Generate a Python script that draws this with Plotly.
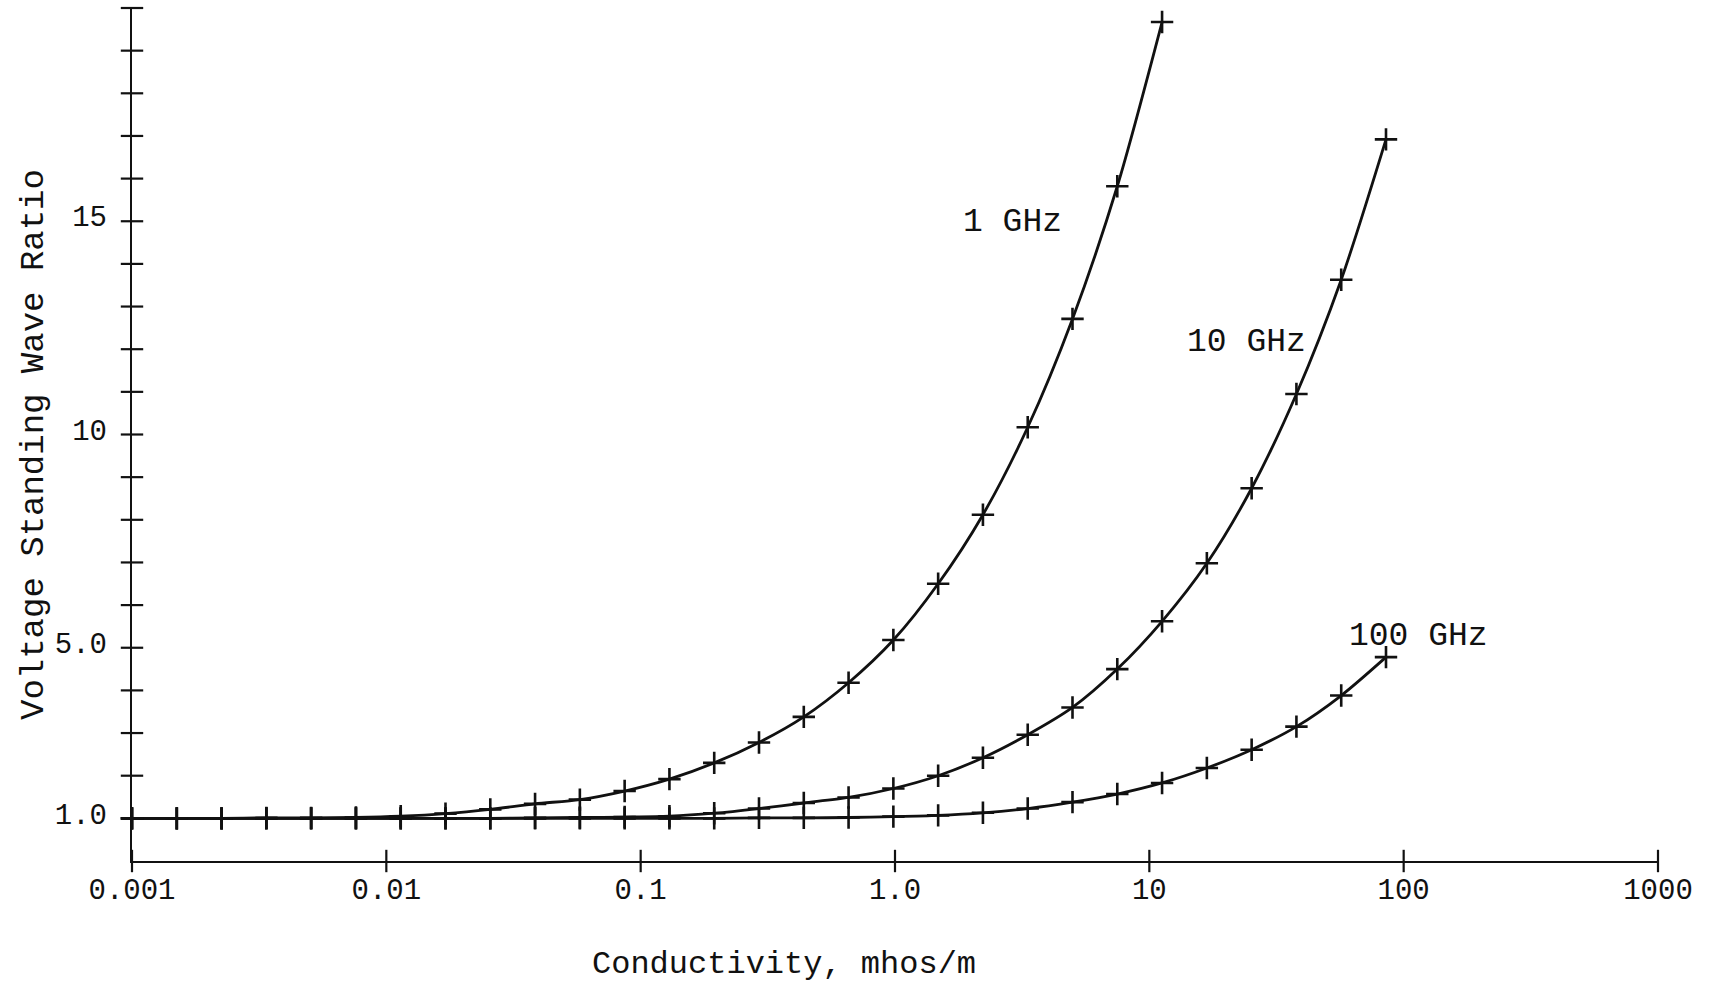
import math
import plotly.graph_objects as go

# Conductivity sample points, mhos/m (steps of x1.5 starting at 0.001)
sigma = [0.001, 0.0015, 0.00225, 0.003375, 0.0050625, 0.0075938, 0.0113906,
         0.0170859, 0.0256289, 0.0384434, 0.057665, 0.0864976, 0.129746,
         0.19462, 0.291929, 0.437894, 0.656841, 0.985261, 1.47789, 2.21684,
         3.32526, 4.98789, 7.48183, 11.2227, 16.8341, 25.2512, 37.8768,
         56.8151, 85.2227]

# VSWR versus conductivity for each frequency
vswr_1ghz = [1.00, 1.00, 1.00, 1.01, 1.01, 1.02, 1.05, 1.11, 1.21, 1.34,
             1.44, 1.64, 1.92, 2.30, 2.78, 3.38, 4.18, 5.18, 6.50, 8.12,
             10.17, 12.71, 15.82, 19.67]
vswr_10ghz = [1.00, 1.00, 1.00, 1.00, 1.00, 1.00, 1.00, 1.00, 1.00, 1.01,
              1.02, 1.03, 1.05, 1.12, 1.23, 1.36, 1.49, 1.70, 2.00, 2.42,
              2.96, 3.60, 4.50, 5.62, 6.98, 8.74, 10.95, 13.63, 16.92]
vswr_100ghz = [1.00, 1.00, 1.00, 1.00, 1.00, 1.00, 1.00, 1.00, 1.00, 1.00,
               1.00, 1.00, 1.00, 1.00, 1.01, 1.01, 1.02, 1.04, 1.07, 1.13,
               1.23, 1.38, 1.57, 1.83, 2.18, 2.61, 3.15, 3.88, 4.78]

curve_names = ["1 GHz", "10 GHz", "100 GHz"]
curve_label_x = [2.91, 24.0, 114.0]
curve_label_y = [14.98, 12.16, 5.27]

x_ticks = [0.001, 0.01, 0.1, 1, 10, 100, 1000]
x_tick_text = ["0.001", "0.01", "0.1", "1.0", "10", "100", "1000"]
y_minor = list(range(1, 21))
y_ticks = [1, 5, 10, 15]
y_tick_text = ["1.0", "5.0", "10", "15"]

INK = "#111111"
FONT = "Liberation Mono"

fig = go.Figure()

for ys in (vswr_1ghz, vswr_10ghz, vswr_100ghz):
    fig.add_trace(go.Scatter(
        x=sigma[:len(ys)], y=ys, mode="lines+markers",
        line=dict(color=INK, width=2.8, shape="spline", smoothing=0.8),
        marker=dict(symbol="cross-thin", size=16,
                    line=dict(color=INK, width=2.6)),
        cliponaxis=False, showlegend=False, hoverinfo="x+y"))

# tick marks that cross the axis lines
fig.add_trace(go.Scatter(
    x=x_ticks, y=[0] * len(x_ticks), mode="markers",
    marker=dict(symbol="line-ns", size=16, line=dict(color=INK, width=2.2)),
    cliponaxis=False, showlegend=False, hoverinfo="skip"))
fig.add_trace(go.Scatter(
    x=[0.001] * len(y_minor), y=y_minor, mode="markers",
    marker=dict(symbol="line-ew", size=16, line=dict(color=INK, width=2.2)),
    cliponaxis=False, showlegend=False, hoverinfo="skip"))

# curve labels (log axis: annotation x is given in decades)
for name, lx, ly in zip(curve_names, curve_label_x, curve_label_y):
    fig.add_annotation(x=math.log10(lx), y=ly, xref="x", yref="y", text=name,
                       showarrow=False, xanchor="center", yanchor="middle",
                       font=dict(family=FONT, size=33, color=INK))

fig.add_annotation(text="Conductivity, mhos/m", xref="paper", yref="paper",
                   x=0.4273, y=0, yshift=-103, showarrow=False,
                   xanchor="center", yanchor="middle",
                   font=dict(family=FONT, size=32, color=INK))
fig.add_annotation(text="Voltage Standing Wave Ratio", xref="paper",
                   yref="paper", x=0, xshift=-98, y=0.4877, textangle=-90,
                   showarrow=False, xanchor="center", yanchor="middle",
                   font=dict(family=FONT, size=34, color=INK))

fig.update_xaxes(type="log", range=[-3, 3], tickvals=x_ticks,
                 ticktext=x_tick_text, ticks="outside", ticklen=1,
                 tickcolor="rgba(0,0,0,0)", showline=True, linecolor=INK,
                 linewidth=2.4, showgrid=False, zeroline=False,
                 tickfont=dict(family=FONT, size=29, color=INK))
fig.update_yaxes(range=[0, 20], tickvals=y_ticks, ticktext=y_tick_text,
                 ticks="outside", ticklen=17, tickcolor="rgba(0,0,0,0)",
                 ticklabelshift=-5,
                 showline=True, linecolor=INK, linewidth=2.4,
                 showgrid=False, zeroline=False,
                 tickfont=dict(family=FONT, size=29, color=INK))

fig.update_layout(width=1724, height=985,
                  margin=dict(l=132, r=66, t=8, b=124, autoexpand=False),
                  paper_bgcolor="white", plot_bgcolor="white")

fig.write_html("out.html")
